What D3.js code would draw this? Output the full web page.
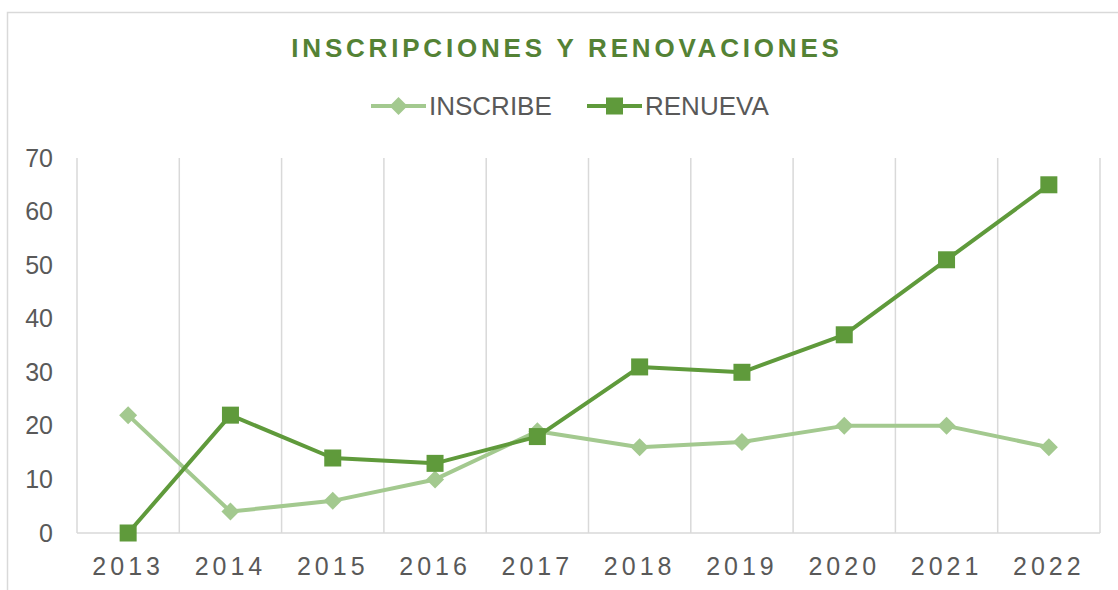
<!DOCTYPE html>
<meta charset="utf-8">
<script src="https://d3js.org/d3.v7.min.js"></script>
<style>
body { margin: 0; background: #fff; }
text { font-family: "Liberation Sans", Arial, sans-serif; }
</style>
<body></body>
<script>

// data
var years = ["2013","2014","2015","2016","2017","2018","2019","2020","2021","2022"];
var inscribe = [22, 4, 6, 10, 19, 16, 17, 20, 20, 16];
var renueva = [0, 22, 14, 13, 18, 31, 30, 37, 51, 65];
var yTicks = [0, 10, 20, 30, 40, 50, 60, 70];

var W = 1118, H = 590;
var margin = {top: 158, right: 18, bottom: 57, left: 77};
var width = W - margin.left - margin.right,
    height = H - margin.top - margin.bottom;

var svg = d3.select("body").append("svg")
    .attr("width", W)
    .attr("height", H);

// chart frame
svg.append("rect")
  .attr("x", 7.5).attr("y", 12.5)
  .attr("width", W + 20).attr("height", H + 20)
  .attr("fill", "none")
  .attr("stroke", "#d9d9d9")
  .attr("stroke-width", 1.5);

svg.append("text")
  .attr("x", 567).attr("y", 57)
  .attr("text-anchor", "middle")
  .attr("fill", "#548235")
  .style("font-size", "26px")
  .style("font-weight", "bold")
  .style("letter-spacing", "3.8px")
  .text("INSCRIPCIONES Y RENOVACIONES");

var g = svg.append("g")
    .attr("transform", `translate(${margin.left}, ${margin.top})`);

var xScale = d3.scaleBand()
  .domain(years)
  .range([0, width]);

var yScale = d3.scaleLinear()
  .domain([0, 70])
  .range([height, 0]);

var xMid = d => xScale(d) + xScale.bandwidth() / 2;

// vertical gridlines at band edges
var edges = years.map(d => xScale(d)).concat([width]);
g.selectAll(".vgrid")
  .data(edges)
  .enter().append("line")
  .attr("class", "vgrid")
  .attr("x1", d => d).attr("x2", d => d)
  .attr("y1", 0).attr("y2", height)
  .attr("stroke", "#d9d9d9")
  .attr("stroke-width", 1.5);

// bottom axis line
g.append("line")
  .attr("x1", 0).attr("x2", width)
  .attr("y1", height).attr("y2", height)
  .attr("stroke", "#d9d9d9")
  .attr("stroke-width", 1.5);

// y axis labels
var yAxis = d3.axisLeft(yScale).tickValues(yTicks).tickSize(0).tickPadding(24);
var yAxisGroup = g.append("g").call(yAxis);
yAxisGroup.select(".domain").remove();
yAxisGroup.selectAll("text")
  .attr("fill", "#595959")
  .style("font-size", "25px")
  .style("font-family", "'Liberation Sans', Arial, sans-serif");

// x axis labels
var xAxis = d3.axisBottom(xScale).tickSize(0).tickPadding(24);
var xAxisGroup = g.append("g")
  .attr("transform", `translate(0,${height})`)
  .call(xAxis);
xAxisGroup.select(".domain").remove();
xAxisGroup.selectAll("text")
  .attr("fill", "#595959")
  .style("font-size", "25px")
  .style("letter-spacing", "4px")
  .style("font-family", "'Liberation Sans', Arial, sans-serif");

var lightGreen = "#a3c98f", darkGreen = "#5f9a3b";

var line = d3.line()
  .x((d, i) => xMid(years[i]))
  .y(d => yScale(d));

g.append("path")
  .datum(inscribe)
  .attr("d", line)
  .attr("fill", "none")
  .attr("stroke", lightGreen)
  .attr("stroke-width", 4)
  .attr("stroke-linejoin", "round");

g.selectAll(".dia")
  .data(inscribe)
  .enter().append("path")
  .attr("class", "dia")
  .attr("transform", (d, i) => `translate(${xMid(years[i])},${yScale(d)})`)
  .attr("d", "M0,-9L9,0L0,9L-9,0Z")
  .attr("fill", lightGreen);

g.append("path")
  .datum(renueva)
  .attr("d", line)
  .attr("fill", "none")
  .attr("stroke", darkGreen)
  .attr("stroke-width", 4)
  .attr("stroke-linejoin", "round");

g.selectAll(".sq")
  .data(renueva)
  .enter().append("rect")
  .attr("class", "sq")
  .attr("x", (d, i) => xMid(years[i]) - 8.5)
  .attr("y", d => yScale(d) - 8.5)
  .attr("width", 17).attr("height", 17)
  .attr("fill", darkGreen);

// legend
var legend = svg.append("g");
var items = [
  {name: "INSCRIBE", color: lightGreen, shape: "dia", x: 371},
  {name: "RENUEVA", color: darkGreen, shape: "sq", x: 587}
];
items.forEach(function(it) {
  var lg = legend.append("g").attr("transform", `translate(${it.x},106)`);
  lg.append("line")
    .attr("x1", 0).attr("x2", 55)
    .attr("stroke", it.color).attr("stroke-width", 4);
  if (it.shape == "dia") {
    lg.append("path").attr("d", "M27.5,-9L36.5,0L27.5,9L18.5,0Z").attr("fill", it.color);
  } else {
    lg.append("rect").attr("x", 19).attr("y", -8.5).attr("width", 17).attr("height", 17).attr("fill", it.color);
  }
  lg.append("text")
    .attr("x", 58).attr("y", 9)
    .attr("fill", "#595959")
    .style("font-size", "26px")
    .text(it.name);
});

</script>
